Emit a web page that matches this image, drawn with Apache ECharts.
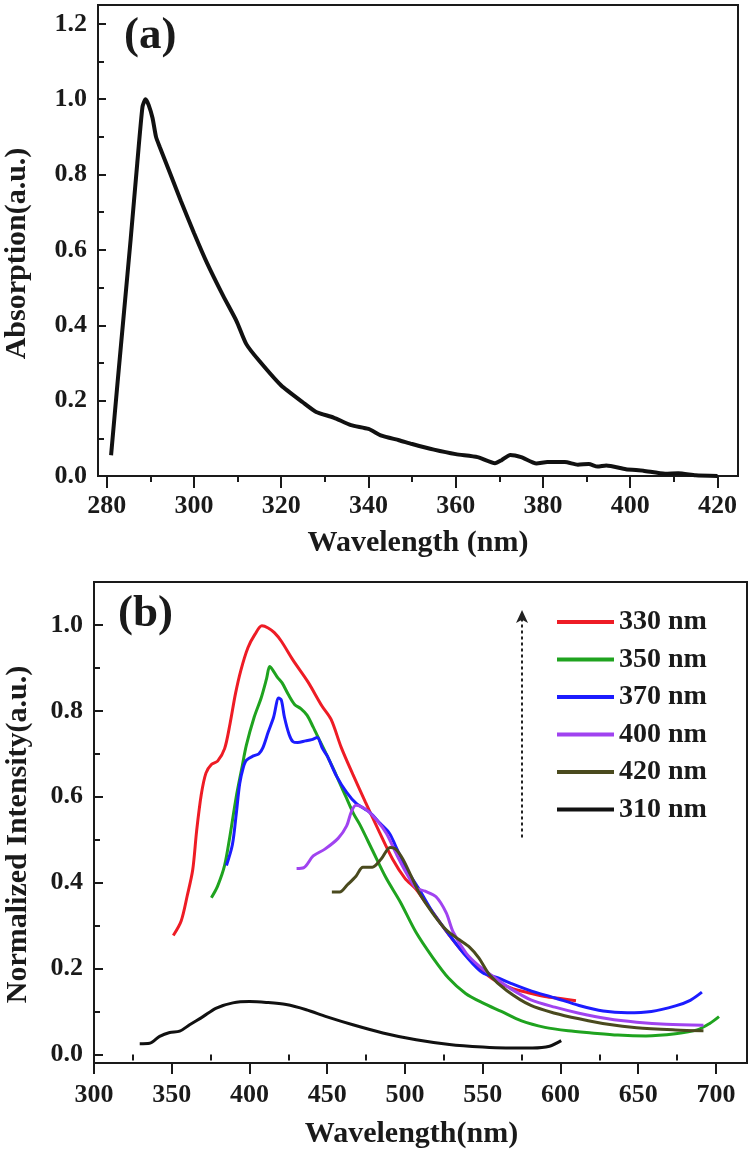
<!DOCTYPE html>
<html>
<head>
<meta charset="utf-8">
<script src="https://cdn.jsdelivr.net/npm/echarts@6.0.0/dist/echarts.min.js"></script>
<style>
  html, body { margin: 0; padding: 0; background: #fff; }
  #chart { width: 754px; height: 1152px; }
</style>
</head>
<body>
<div id="chart"></div>
<script>
// ---------- Panel (a): absorption ----------
const absWl  = [281, 282.5, 284, 285.5, 287, 288.2, 288.9, 289.6, 290.5, 291.3, 292.2, 294.5, 297, 300, 303, 306.7, 309.8, 312, 315, 320, 325, 328, 332, 336, 340, 343, 347, 350, 355, 360, 365, 369, 370.5, 372.5, 375, 378.5, 381, 385, 388, 390.5, 392.5, 394.5, 399, 403, 408, 411, 415, 420];
const absVal = [0.055, 0.25, 0.44, 0.63, 0.83, 0.98, 1.0, 0.985, 0.95, 0.9, 0.872, 0.804, 0.73, 0.645, 0.565, 0.478, 0.41, 0.35, 0.305, 0.24, 0.195, 0.17, 0.155, 0.135, 0.125, 0.107, 0.095, 0.085, 0.07, 0.058, 0.05, 0.034, 0.042, 0.056, 0.05, 0.033, 0.037, 0.037, 0.03, 0.032, 0.025, 0.028, 0.018, 0.014, 0.006, 0.007, 0.002, 0.0];

const absXTicks = [280, 300, 320, 340, 360, 380, 400, 420];
const absXMinor = [290, 310, 330, 350, 370, 390, 410];
const absYTicks = [0, 0.2, 0.4, 0.6, 0.8, 1.0, 1.2];
const absYMinor = [0.1, 0.3, 0.5, 0.7, 0.9, 1.1];

// ---------- Panel (b): normalized PL for different excitation ----------
const ex330Wl  = [351, 356, 360, 363.5, 366, 369, 372, 375.5, 379.5, 384, 387.5, 391, 394.5, 399, 403.5, 408, 412, 416, 420.5, 428, 437.5, 446.5, 452.5, 459, 466.5, 474.5, 483.5, 492, 500, 507, 512, 520, 528, 538, 548, 558, 568, 580, 590, 600, 610];
const ex330Int = [0.277, 0.31, 0.37, 0.43, 0.52, 0.605, 0.655, 0.675, 0.683, 0.712, 0.77, 0.84, 0.895, 0.947, 0.978, 0.998, 0.993, 0.982, 0.962, 0.918, 0.868, 0.812, 0.78, 0.715, 0.652, 0.588, 0.518, 0.455, 0.41, 0.385, 0.36, 0.32, 0.28, 0.235, 0.2, 0.172, 0.155, 0.143, 0.135, 0.13, 0.125];

const ex350Wl  = [375.5, 379.5, 384, 387.5, 391.5, 395, 398, 403, 407.5, 411, 413, 415, 418, 421, 425, 429, 433, 437, 441, 445, 450, 454, 458, 462, 467, 471, 479, 488, 497, 507, 518, 528, 539, 550, 562, 575, 590, 605, 620, 637, 655, 674, 688, 696, 702];
const ex350Int = [0.365, 0.392, 0.44, 0.51, 0.6, 0.665, 0.72, 0.785, 0.83, 0.875, 0.903, 0.895, 0.878, 0.865, 0.838, 0.815, 0.805, 0.79, 0.762, 0.732, 0.695, 0.665, 0.632, 0.6, 0.56, 0.535, 0.476, 0.41, 0.355, 0.285, 0.225, 0.178, 0.142, 0.12, 0.1, 0.078, 0.063, 0.055, 0.05, 0.045, 0.043, 0.048, 0.057, 0.072, 0.088];

const ex370Wl  = [385.2, 389, 391.5, 393.7, 396, 398, 402.5, 406, 408.5, 412, 415.5, 418.8, 420.5, 422.5, 425.5, 428, 431, 436, 440, 443.5, 447, 450, 456, 462.5, 468.5, 477.5, 484, 490, 494, 500.5, 509.5, 518, 529, 539.5, 550, 560, 568.5, 581, 596, 612, 627.5, 643, 658.5, 674, 683.5, 691];
const ex370Int = [0.44, 0.488, 0.56, 0.63, 0.668, 0.685, 0.695, 0.70, 0.713, 0.75, 0.785, 0.83, 0.825, 0.785, 0.745, 0.728, 0.726, 0.73, 0.733, 0.738, 0.712, 0.695, 0.648, 0.61, 0.585, 0.563, 0.538, 0.515, 0.485, 0.435, 0.382, 0.33, 0.276, 0.228, 0.19, 0.178, 0.165, 0.148, 0.132, 0.114, 0.101, 0.097, 0.1, 0.113, 0.126, 0.145];

const ex400Wl  = [430.3, 435, 441, 448.5, 457, 462.5, 465.5, 468.5, 475, 481.5, 488, 494.3, 500.5, 507, 513, 520, 526.5, 531, 539.3, 548, 558, 568.4, 581, 596.4, 612, 630.6, 649, 668, 692];
const ex400Int = [0.433, 0.435, 0.462, 0.478, 0.503, 0.532, 0.565, 0.58, 0.57, 0.547, 0.515, 0.468, 0.425, 0.388, 0.38, 0.367, 0.33, 0.285, 0.236, 0.205, 0.178, 0.152, 0.127, 0.11, 0.096, 0.083, 0.075, 0.07, 0.068];

const ex420Wl  = [453, 458, 463, 468.5, 473, 479, 484.7, 490.5, 494, 498.6, 504, 509.3, 518, 526.5, 535, 541.5, 547.5, 554.5, 565.4, 581, 596.4, 612, 630.6, 649, 674, 692];
const ex420Int = [0.378, 0.378, 0.395, 0.415, 0.436, 0.436, 0.455, 0.482, 0.478, 0.455, 0.415, 0.375, 0.328, 0.29, 0.267, 0.25, 0.225, 0.185, 0.149, 0.114, 0.096, 0.083, 0.07, 0.062, 0.057, 0.055];

const ex310Wl  = [329.4, 335.8, 342.2, 348.7, 355.1, 361.5, 370.1, 378.7, 389.3, 400, 410.8, 423.6, 436.5, 449.4, 466.5, 485.8, 507.2, 528.6, 550, 565, 582, 593, 600.5];
const ex310Int = [0.025, 0.026, 0.042, 0.051, 0.054, 0.069, 0.088, 0.108, 0.12, 0.123, 0.121, 0.116, 0.104, 0.088, 0.069, 0.05, 0.034, 0.023, 0.017, 0.015, 0.015, 0.019, 0.032];

const plXTicks = [300, 350, 400, 450, 500, 550, 600, 650, 700];
const plXMinor = [325, 375, 425, 475, 525, 575, 625, 675];
const plYTicks = [0, 0.2, 0.4, 0.6, 0.8, 1.0];
const plYMinor = [0.1, 0.3, 0.5, 0.7, 0.9];

const legendNames = ['330 nm', '350 nm', '370 nm', '400 nm', '420 nm', '310 nm'];

// dotted arrow annotation (data coordinates of panel b)
const arrowWl = 575.3;
const arrowFrom = 0.505;
const arrowTo = 1.035;

// ---------- helpers ----------
const FONT = 'Liberation Serif';
const INK = '#1a1a1a';
const zip = (xs, ys) => xs.map((x, i) => [x, ys[i]]);

function mainAxis(o) {
  return {
    type: 'value', gridIndex: o.grid, min: o.min, max: o.max, position: o.pos,
    axisLine: { show: true, onZero: false, lineStyle: { color: INK, width: 2 } },
    axisTick: { show: true, inside: o.inside, length: o.tickLen, customValues: o.ticks,
                lineStyle: { color: INK, width: 2 } },
    axisLabel: { show: true, customValues: o.ticks, margin: o.margin,
                 formatter: o.fmt, fontFamily: FONT, fontWeight: 'bold', fontSize: 26, color: INK },
    splitLine: { show: false },
    name: o.name, nameLocation: 'middle', nameGap: o.nameGap,
    nameTextStyle: { fontFamily: FONT, fontWeight: 'bold', fontSize: 30, color: INK, padding: o.namePad }
  };
}
function minorAxis(o) {
  return {
    type: 'value', gridIndex: o.grid, min: o.min, max: o.max, position: o.pos,
    axisLine: { show: false },
    axisTick: { show: true, inside: o.inside, length: o.tickLen, customValues: o.ticks,
                lineStyle: { color: INK, width: 2 } },
    axisLabel: { show: false },
    splitLine: { show: false }
  };
}
function lineSeries(name, xs, ys, color, width, xi, yi, extra) {
  return Object.assign({
    name: name, type: 'line', xAxisIndex: xi, yAxisIndex: yi,
    data: zip(xs, ys), showSymbol: false, symbol: 'none', smooth: 0.3,
    lineStyle: { color: color, width: width }, itemStyle: { color: color },
    emphasis: { disabled: true }, animation: false
  }, extra || {});
}

const fmt1 = v => v.toFixed(1);
const fmt0 = v => String(Math.round(v));

const option = {
  backgroundColor: '#ffffff',
  animation: false,
  title: [
    { text: '(a)', left: 124, top: 14, padding: 0,
      textStyle: { fontFamily: FONT, fontWeight: 'bold', fontSize: 45, color: INK } },
    { text: '(b)', left: 118, top: 592, padding: 0,
      textStyle: { fontFamily: FONT, fontWeight: 'bold', fontSize: 45, color: INK } }
  ],
  grid: [
    { left: 98, top: 5, width: 640, height: 471, show: true, borderColor: INK, borderWidth: 2,
      outerBoundsMode: 'none', containLabel: false },
    { left: 94, top: 582, width: 653, height: 481, show: true, borderColor: INK, borderWidth: 2,
      outerBoundsMode: 'none', containLabel: false }
  ],
  legend: {
    orient: 'vertical', left: 557, top: 608, itemWidth: 57, itemHeight: 4, itemGap: 9.5,
    icon: 'rect', padding: 0,
    textStyle: { fontFamily: FONT, fontWeight: 'bold', fontSize: 28, lineHeight: 28, color: INK },
    data: legendNames
  },
  xAxis: [
    mainAxis({ grid: 0, min: 278, max: 424.7, pos: 'bottom', inside: false, tickLen: 12, ticks: absXTicks,
               margin: 17, fmt: fmt0, name: 'Wavelength (nm)', nameGap: 52, namePad: 0 }),
    minorAxis({ grid: 0, min: 278, max: 424.7, pos: 'bottom', inside: false, tickLen: 6, ticks: absXMinor }),
    mainAxis({ grid: 1, min: 300, max: 720, pos: 'bottom', inside: false, tickLen: 11, ticks: plXTicks,
               margin: 19, fmt: fmt0, name: 'Wavelength(nm)', nameGap: 56, namePad: [0, 18, 0, 0] }),
    minorAxis({ grid: 1, min: 300, max: 720, pos: 'bottom', inside: false, tickLen: 6, ticks: plXMinor })
  ],
  yAxis: [
    mainAxis({ grid: 0, min: 0, max: 1.25, pos: 'left', inside: true, tickLen: 8, ticks: absYTicks,
               margin: 11, fmt: fmt1, name: 'Absorption(a.u.)', nameGap: 66, namePad: [0, 26, 0, 0] }),
    minorAxis({ grid: 0, min: 0, max: 1.25, pos: 'left', inside: true, tickLen: 6, ticks: absYMinor }),
    mainAxis({ grid: 1, min: -0.02, max: 1.1, pos: 'left', inside: true, tickLen: 9, ticks: plYTicks,
               margin: 11, fmt: fmt1, name: 'Normalized Intensity(a.u.)', nameGap: 61, namePad: [0, 24, 0, 0] }),
    minorAxis({ grid: 1, min: -0.02, max: 1.1, pos: 'left', inside: true, tickLen: 6, ticks: plYMinor })
  ],
  series: [
    lineSeries('absorption', absWl, absVal, '#111111', 4, 0, 0, { smooth: 0.2 }),
    lineSeries('330 nm', ex330Wl, ex330Int, '#ee1c25', 3, 2, 2, {
      markLine: {
        silent: true, symbol: ['none', 'arrow'], symbolSize: [9, 13],
        label: { show: false }, emphasis: { disabled: true },
        lineStyle: { type: [3, 3], color: '#222', width: 2 },
        data: [[{ coord: [arrowWl, arrowFrom] }, { coord: [arrowWl, arrowTo] }]]
      }
    }),
    lineSeries('350 nm', ex350Wl, ex350Int, '#1fa31f', 3, 2, 2),
    lineSeries('370 nm', ex370Wl, ex370Int, '#1c1cff', 3, 2, 2),
    lineSeries('400 nm', ex400Wl, ex400Int, '#a043f0', 3, 2, 2),
    lineSeries('420 nm', ex420Wl, ex420Int, '#4a4a1e', 3, 2, 2),
    lineSeries('310 nm', ex310Wl, ex310Int, '#111111', 3, 2, 2)
  ]
};

const chart = echarts.init(document.getElementById('chart'), null, { renderer: 'canvas' });
chart.setOption(option);
</script>
</body>
</html>
